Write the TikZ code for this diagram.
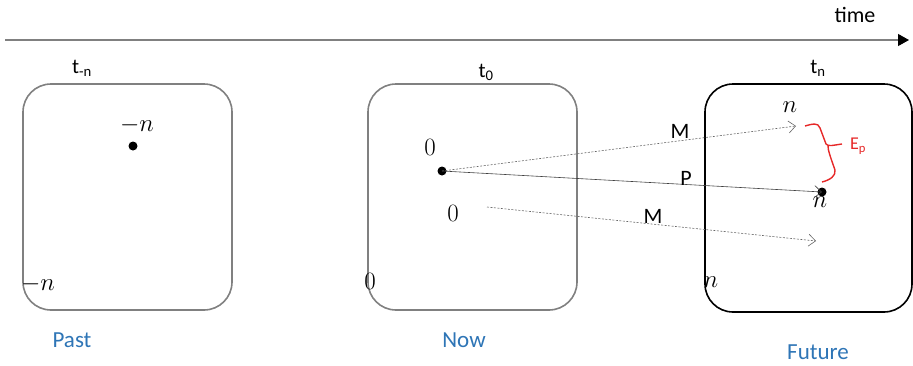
\documentclass[tikz,border=0pt]{standalone}
\usepackage{fontspec}
\setmainfont{Carlito}
\usetikzlibrary{arrows.meta}
\definecolor{boxgray}{RGB}{128,128,128}
\definecolor{lblue}{RGB}{46,117,182}
\definecolor{bred}{RGB}{230,40,40}
\begin{document}
\begin{tikzpicture}[x=1pt,y=-1pt,
  box/.style={draw=boxgray,line width=1.6pt,rounded corners=28pt},
  fbox/.style={draw=black,line width=1.6pt,rounded corners=28pt},
  lbl/.style={font=\fontsize{22}{26}\selectfont,inner sep=0pt},
  tl/.style={font=\fontsize{21}{24}\selectfont,inner sep=0pt},
  era/.style={font=\fontsize{23}{27}\selectfont,text=lblue,inner sep=0pt},
  mth/.style={font=\fontsize{24}{28}\selectfont,inner sep=0pt},
  dot/.style={circle,fill=black,inner sep=0pt,minimum size=9pt},
  conn/.style={draw=black!75,line width=0.6pt,-{Straight Barb[length=7pt,width=12pt,line width=0.6pt]}},
  dconn/.style={conn,draw=black!60,dash pattern=on 2pt off 1.5pt}
]
\useasboundingbox (0,0) rectangle (913,365);
% time axis
\coordinate (ta) at (5,40);
\coordinate (tb) at (909,40);
\draw[draw=boxgray,line width=1.2pt,-{Triangle[length=11pt,width=12pt,fill=black,color=black]}] (ta) -- (tb);
\node[lbl] (time) at (855,15) {time};
% boxes
\draw[box] (23,84) rectangle (232,310);
\draw[box] (368,84) rectangle (577,310);
\draw[fbox] (705,84) rectangle (912,312);
% time labels
\node[tl] (tmn) at (82,68) {t\textsubscript{-n}};
\node[tl] (t0) at (486,72) {t\textsubscript{0}};
\node[tl] (tn) at (818,68) {t\textsubscript{n}};
% past
\node[dot] (pd) at (133,146) {};
\node[mth] (pn) at (137,125) {$-n$};
\node[mth] (pbn) at (38,284) {$-n$};
\node[era] (past) at (72,340) {Past};
% now
\node[dot] (nd) at (442,171) {};
\node[mth] (z1) at (430,147) {$0$};
\node[mth] (z2) at (453,213) {$0$};
\node[mth] (z3) at (370,281) {$0$};
\coordinate (ls) at (487,207);
\node[era] (now) at (464,340) {Now};
% future
\node[dot] (fd) at (822,192) {};
\node[mth] (fn1) at (790,107) {$n$};
\node[mth] (fn2) at (820,202) {$n$};
\node[mth] (fn3) at (711,282) {$n$};
\node[era] (fut) at (818,352) {Future};
\coordinate (mt) at (796,126);
\coordinate (mb) at (816,241);
% connectors
\draw[dconn] (nd.center) -- (mt);
\draw[conn] (nd.center) -- (fd.center);
\draw[dconn] (ls) -- (mb);
\node[lbl] (m1) at (680,131) {M};
\node[lbl] (p) at (686,178) {P};
\node[lbl] (m2) at (653,216) {M};
% brace
\draw[bred,line width=1.4pt,line join=round]
  (805,126) .. controls (812,124) and (818,122) .. (820,128)
  -- (826,144) .. controls (828,147) and (834,145) .. (842,144)
  (828,146) .. controls (828,150) and (830,156) .. (835,170)
  .. controls (836,176) and (830,180) .. (822,182);
\node[font=\fontsize{18}{21}\selectfont,text=bred,inner sep=0pt] (ep) at (858,146) {E\textsubscript{p}};
\end{tikzpicture}
\end{document}
